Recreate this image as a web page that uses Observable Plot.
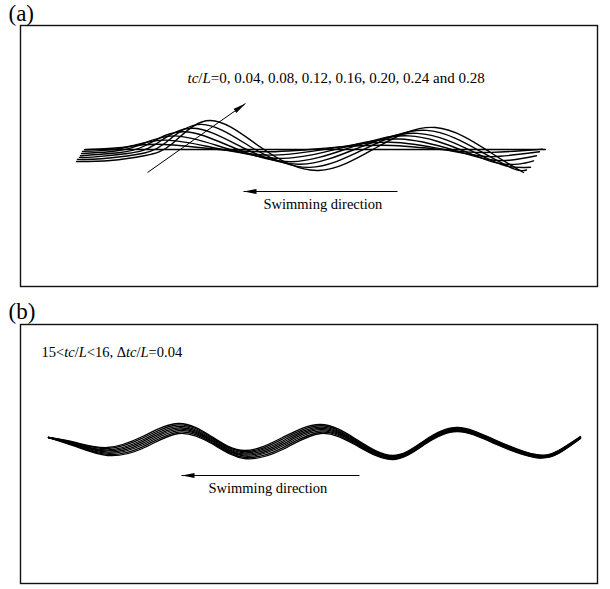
<!DOCTYPE html>
<html><head><meta charset="utf-8">
<script src="https://cdn.jsdelivr.net/npm/d3@7"></script>
<script src="https://cdn.jsdelivr.net/npm/@observablehq/plot@0.6"></script>
<style>html,body{margin:0;padding:0;background:#fff;} svg{display:block}</style>
</head><body><div id="chart"></div>
<script>
// ---------- Panel (a): body shapes at tc/L = 0 ... 0.28 ----------
const aTimes = [0, 0.04, 0.08, 0.12, 0.16, 0.20, 0.24, 0.28];
const aX0 = [85, 545];
const aY0 = [149, 149];
const aX1 = [84, 118, 156, 208, 264, 322, 381, 436, 469, 491, 521, 542];
const aY1 = [149.2, 147.3, 143.8, 148, 151.3, 147.9, 144.8, 148.6, 151.6, 151.9, 150.3, 148.6];
const aX2 = [82, 100, 127, 165, 217, 273, 331, 390, 445, 478, 500, 539];
const aY2 = [150.9, 150.1, 146.5, 139.6, 148, 154.6, 147.7, 141.7, 149.2, 155.2, 155.8, 151.3];
const aX3 = [81, 109, 136, 174, 226, 282, 340, 399, 454, 487, 509, 536];
const aY3 = [153.0, 151.2, 145.7, 135.4, 148, 157.9, 147.6, 138.5, 149.8, 158.8, 159.7, 155.2];
const aX4 = [80, 118, 145, 183, 235, 291, 349, 408, 463, 496, 518, 533];
const aY4 = [155.2, 152.2, 145, 131.2, 148, 161.2, 147.4, 135.4, 150.4, 162.4, 163.6, 160.3];
const aX5 = [79, 92, 127, 154, 192, 244, 300, 358, 417, 472, 505, 530];
const aY5 = [156.9, 156.6, 153.0, 144.4, 127.8, 148, 163.8, 147.3, 132.9, 150.9, 165.3, 166.7];
const aX6 = [77, 101, 136, 163, 201, 253, 309, 367, 426, 481, 514, 526];
const aY6 = [158.9, 158.3, 154.0, 143.7, 123.9, 148, 166.9, 147.1, 129.9, 151.4, 168.6, 169.5];
const aX7 = [76, 110, 145, 172, 210, 262, 318, 376, 435, 490, 523];
const aY7 = [161, 160, 155, 143, 120, 148, 170, 147, 127, 152, 172];

// ---------- Panel (b): one period, 15 < tc/L < 16 ----------
const bX = [48, 75, 107, 142, 178, 211, 244, 282, 320, 356, 392, 424, 457, 496, 535, 558, 580];
const bTop = [437, 442, 447, 436, 423, 436, 450, 437, 424, 439, 455, 440, 427, 440, 454, 450, 436];
const bSpread = [0, 4, 8, 12, 10, 7, 8, 12, 9, 6, 4, 4, 4, 4, 3, 3, 2];
const bLevels = [0, 0.14, 0.29, 0.43, 0.57, 0.71, 0.86, 1];

// ---------- annotations ----------
const aNote = "tc/L=0, 0.04, 0.08, 0.12, 0.16, 0.20, 0.24 and 0.28";
const bNote = "15<tc/L<16, \u0394tc/L=0.04";
const dirLabel = "Swimming direction";
const aArrows = [{x1: 147, y1: 172, x2: 245, y2: 103}, {x1: 397, y1: 191, x2: 243, y2: 191}];
const bArrows = [{x1: 359, y1: 475, x2: 181, y2: 475}];
const aTexts = [{x: 187, y: 82, text: aNote}, {x: 263, y: 208, text: dirLabel}];
const bTexts = [{x: 41, y: 356, text: bNote}, {x: 208, y: 492, text: dirLabel}];
const aTag = [{x: 8, y: 20, text: "(a)"}];
const bTag = [{x: 8, y: 318, text: "(b)"}];

// ---------- tables ----------
const aCurves = [[aX0, aY0], [aX1, aY1], [aX2, aY2], [aX3, aY3], [aX4, aY4], [aX5, aY5], [aX6, aY6], [aX7, aY7]];
const rowsA = aCurves.flatMap(([xs, ys], k) => xs.map((x, i) => ({t: aTimes[k], x, y: ys[i]})));
const rowsB = bLevels.flatMap((f, j) => bX.map((x, i) => ({j, x, y: bTop[i] + bSpread[i] * f})));

const headMarker = (color, context) => {
  const m = d3.create("svg:marker")
    .attr("viewBox", "-13 -3 13 6")
    .attr("markerWidth", 13).attr("markerHeight", 6)
    .attr("markerUnits", "userSpaceOnUse")
    .attr("orient", "auto").attr("refX", 0).attr("refY", 0);
  m.append("path").attr("d", "M-13,-2.5L0,0L-13,2.5Z").attr("fill", color).attr("stroke", "none");
  return m.node();
};

const font = "'Liberation Serif', 'Times New Roman', serif";
const style = {background: "#fff", fontFamily: font, overflow: "visible"};

const plotA = Plot.plot({
  width: 610, height: 290,
  marginTop: 25, marginBottom: 4, marginLeft: 20, marginRight: 13,
  x: {domain: [20, 597], range: [20, 597], axis: null},
  y: {domain: [25, 286], range: [25, 286], axis: null},
  style,
  marks: [
    Plot.frame({stroke: "#111", strokeWidth: 1.4}),
    Plot.line(rowsA, {x: "x", y: "y", z: "t", curve: "natural", stroke: "#000", strokeWidth: 1.4}),
    Plot.link(aArrows, {x1: "x1", y1: "y1", x2: "x2", y2: "y2", stroke: "#000", strokeWidth: 1, markerEnd: headMarker}),
    Plot.text(aTexts.slice(0, 1), {x: "x", y: "y", text: "text", textAnchor: "start", lineAnchor: "bottom", fontSize: 15, fill: "#000"}),
    Plot.text(aTexts.slice(1), {x: "x", y: "y", text: "text", textAnchor: "start", lineAnchor: "bottom", fontSize: 14.5, fill: "#000"}),
    Plot.text(aTag, {x: "x", y: "y", text: "text", textAnchor: "start", lineAnchor: "bottom", fontSize: 23, fill: "#000"})
  ]
});

const plotB = Plot.plot({
  width: 610, height: 299,
  marginTop: 34, marginBottom: 6, marginLeft: 20, marginRight: 13,
  x: {domain: [20, 597], range: [20, 597], axis: null},
  y: {domain: [324, 583], range: [34, 293], axis: null},
  style,
  marks: [
    Plot.frame({stroke: "#111", strokeWidth: 1.4}),
    Plot.line(rowsB, {x: "x", y: "y", z: "j", curve: "natural", stroke: "#000", strokeWidth: 1.3}),
    Plot.link(bArrows, {x1: "x1", y1: "y1", x2: "x2", y2: "y2", stroke: "#000", strokeWidth: 1, markerEnd: headMarker}),
    Plot.text(bTexts, {x: "x", y: "y", text: "text", textAnchor: "start", lineAnchor: "bottom", fontSize: 14.5, fill: "#000"}),
    Plot.text(bTag, {x: "x", y: "y", text: "text", textAnchor: "start", lineAnchor: "bottom", fontSize: 23, fill: "#000"})
  ]
});

function italicize(svg) {
  d3.select(svg).selectAll("text").each(function () {
    const s = this.textContent;
    if (!/tc\/L/.test(s)) return;
    const parts = s.split(/(tc|L)/).filter((p) => p !== "");
    this.textContent = "";
    for (const p of parts) {
      const t = document.createElementNS("http://www.w3.org/2000/svg", "tspan");
      if (p === "tc" || p === "L") t.setAttribute("font-style", "italic");
      t.textContent = p;
      this.appendChild(t);
    }
  });
}
italicize(plotA);
italicize(plotB);
document.getElementById("chart").append(plotA, plotB);
</script>
</body></html>
